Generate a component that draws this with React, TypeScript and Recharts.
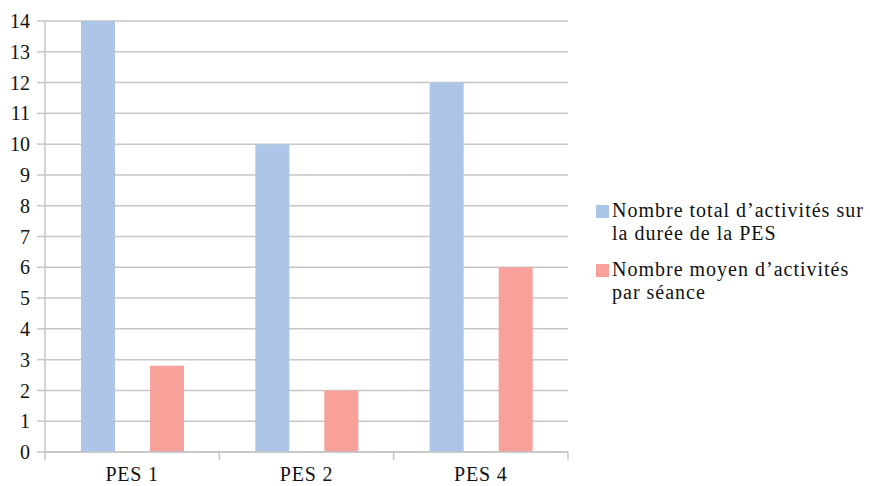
import React from "react";
import { BarChart, Bar, XAxis, YAxis, CartesianGrid, Legend } from "recharts";

// PES groups and the two activity measures
const categories = ["PES 1", "PES 2", "PES 4"];
const totalActivities = [14, 10, 12];
const avgPerSession = [2.8, 2, 6];
const yTicks = [0, 1, 2, 3, 4, 5, 6, 7, 8, 9, 10, 11, 12, 13, 14];

const seriesNames = [
  "Nombre total d\u2019activit\u00e9s sur la dur\u00e9e de la PES",
  "Nombre moyen d\u2019activit\u00e9s par s\u00e9ance",
];
const legendLines = [
  ["Nombre total d\u2019activit\u00e9s sur", "la dur\u00e9e de la PES"],
  ["Nombre moyen d\u2019activit\u00e9s", "par s\u00e9ance"],
];

const data = categories.map((c, i) => ({
  name: c,
  total: totalActivities[i],
  avg: avgPerSession[i],
}));

const BLUE = "#adc5e7";
const RED = "#f8a19a";
const GRID = "#c6c6c6";
const FONT = "Liberation Serif";

const X_TICK_SIZE = 8;
const X_TICK_MARGIN = 7;

// Category label plus separator marks at the band edges
const CategoryTick = (props: any) => {
  const { x, y, payload, index, width, visibleTicksCount } = props;
  const count = visibleTicksCount || categories.length;
  const half =
    payload && typeof payload.offset === "number" && payload.offset > 0
      ? payload.offset
      : width / count / 2;
  const axisY = y - X_TICK_SIZE - X_TICK_MARGIN;
  const last = index === count - 1;
  return (
    <g>
      <line x1={x - half} x2={x - half} y1={axisY} y2={axisY + X_TICK_SIZE} stroke={GRID} strokeWidth={1.5} />
      {last && (
        <line x1={x + half} x2={x + half} y1={axisY} y2={axisY + X_TICK_SIZE} stroke={GRID} strokeWidth={1.5} />
      )}
      <text
        x={x}
        y={y}
        dy="0.71em"
        textAnchor="middle"
        fill="#111"
        style={{ fontFamily: FONT, fontSize: 20, letterSpacing: 0.8 }}
      >
        {payload.value}
      </text>
    </g>
  );
};

const LegendContent = () => (
  <div style={{ fontFamily: FONT, fontSize: 20, color: "#111", lineHeight: "23px", letterSpacing: 1 }}>
    {legendLines.map((lines, i) => (
      <div key={seriesNames[i]} style={{ display: "flex", alignItems: "flex-start", marginBottom: i === 0 ? 13 : 0 }}>
        <div
          style={{
            width: 13,
            height: 13,
            background: i === 0 ? BLUE : RED,
            marginTop: 6,
            marginRight: 3,
            flexShrink: 0,
          }}
        />
        <div>
          {lines.map((l) => (
            <div key={l} style={{ whiteSpace: "nowrap", fontFamily: FONT }}>{l}</div>
          ))}
        </div>
      </div>
    ))}
  </div>
);

export default function App() {
  return (
    <div style={{ position: "absolute", left: 0, top: 0, width: 870, height: 486, background: "#fff", fontFamily: FONT }}>
      <BarChart
        width={870}
        height={486}
        data={data}
        margin={{ top: 21, right: 302, left: 0, bottom: 0 }}
        barSize={34}
        barGap={35}
        style={{ fontFamily: FONT }}
      >
        <CartesianGrid vertical={false} stroke={GRID} strokeWidth={1.5} />
        <XAxis
          dataKey="name"
          height={34}
          axisLine={{ stroke: GRID, strokeWidth: 1.5 }}
          tickLine={false}
          tickSize={X_TICK_SIZE}
          tickMargin={X_TICK_MARGIN}
          tick={<CategoryTick />}
          interval={0}
        />
        <YAxis
          width={45}
          domain={[0, 14]}
          ticks={yTicks}
          interval={0}
          axisLine={{ stroke: GRID, strokeWidth: 1.5 }}
          tickLine={{ stroke: GRID, strokeWidth: 1.5 }}
          tickSize={8}
          tickMargin={7}
          tick={{ fill: "#111", fontFamily: FONT, fontSize: 20 }}
        />
        <YAxis
          yAxisId="frame"
          orientation="right"
          width={0}
          domain={[0, 14]}
          tick={false}
          tickLine={false}
          axisLine={{ stroke: GRID, strokeWidth: 1.5 }}
        />
        <Legend
          layout="vertical"
          align="center"
          verticalAlign="middle"
          content={<LegendContent />}
          wrapperStyle={{ position: "absolute", left: 596, top: 199, width: 274 }}
        />
        <Bar dataKey="total" name={seriesNames[0]} fill={BLUE} isAnimationActive={false} />
        <Bar dataKey="avg" name={seriesNames[1]} fill={RED} isAnimationActive={false} />
      </BarChart>
    </div>
  );
}
